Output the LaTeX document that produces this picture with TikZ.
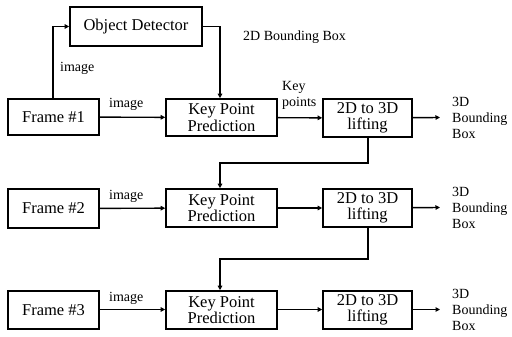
\documentclass[tikz,border=0pt]{standalone}
\usepackage{fontspec}
\setmainfont{Liberation Serif}
\usetikzlibrary{arrows.meta}
\begin{document}
\begin{tikzpicture}[x=1pt,y=-1pt,
  blk/.style={draw,line width=1.6pt,inner sep=0pt,align=center,
    font=\fontsize{16.5}{16.5}\selectfont},
  lbl/.style={inner sep=0pt,align=left,font=\fontsize{14}{16}\selectfont},
  flow/.style={line width=1.4pt,-{Triangle[length=4.5pt,width=4.5pt]}},
  wire/.style={line width=1.4pt}]
\useasboundingbox (0,0) rectangle (512,337);

% detector
\node[blk,minimum width=132pt,minimum height=39pt] (od) at (136,26.5) {Object Detector};

% row 1
\node[blk,minimum width=91pt,minimum height=36pt] (f1) at (53.5,117) {Frame \#1};
\node[blk,minimum width=111pt,minimum height=37pt] (k1) at (221.5,117.5) {Key Point\\Prediction};
\node[blk,minimum width=89pt,minimum height=38pt] (l1) at (367.5,118) {2D to 3D\\lifting};
\coordinate (o1) at (440,117.5);

% row 2
\node[blk,minimum width=91pt,minimum height=39pt] (f2) at (53.5,208.5) {Frame \#2};
\node[blk,minimum width=111pt,minimum height=38pt] (k2) at (221.5,208) {Key Point\\Prediction};
\node[blk,minimum width=89pt,minimum height=38pt] (l2) at (367.5,208) {2D to 3D\\lifting};
\coordinate (o2) at (440,207.5);

% row 3
\node[blk,minimum width=91pt,minimum height=38pt] (f3) at (53.5,310) {Frame \#3};
\node[blk,minimum width=111pt,minimum height=38pt] (k3) at (221.5,310) {Key Point\\Prediction};
\node[blk,minimum width=89pt,minimum height=38pt] (l3) at (367.5,310) {2D to 3D\\lifting};
\coordinate (o3) at (440,309.5);

% labels
\node[lbl,anchor=west] at (243,37) {2D Bounding Box};
\node[lbl,anchor=west] at (60,68) {image};
\node[lbl,anchor=west] at (109,104) {image};
\node[lbl,anchor=west] at (109,196) {image};
\node[lbl,anchor=west] at (109,298) {image};
\node[lbl,anchor=west] at (282,95) {Key\\points};
\node[lbl,anchor=west] at (452,118) {3D\\Bounding\\Box};
\node[lbl,anchor=west] at (452,208) {3D\\Bounding\\Box};
\node[lbl,anchor=west] at (452,310) {3D\\Bounding\\Box};

% frame 1 to detector, detector to key points
\draw[flow] (f1.north -| 53,0) |- (od.west);
\draw[flow] (od.east) -| (k1.north -| 220,0);

% horizontal flow
\draw[flow] (f1) -- (k1);
\draw[flow] (k1) -- (l1);
\draw[flow] (l1) -- (o1);
\draw[flow] (f2) -- (k2);
\draw[flow] (k2) -- (l2);
\draw[flow] (l2) -- (o2);
\draw[flow] (f3.east |- 0,309.5) -- (k3.west |- 0,309.5);
\draw[flow] (k3.east |- 0,309.5) -- (l3.west |- 0,309.5);
\draw[flow] (l3.east |- 0,309.5) -- (o3);

% feedback between rows
\draw[flow] (l1.south -| 368,0) -- (368,163) -- (220,163) -- (k2.north -| 220,0);
\draw[flow] (l2.south -| 368,0) -- (368,259) -- (220,259) -- (k3.north -| 220,0);
\end{tikzpicture}
\end{document}
